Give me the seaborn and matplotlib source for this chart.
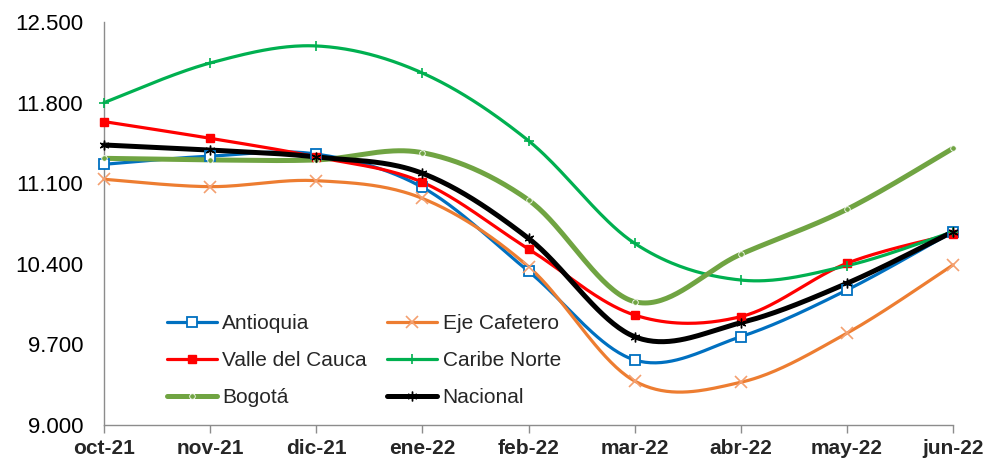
import numpy as np
import pandas as pd
import matplotlib
matplotlib.use("Agg")
import matplotlib.pyplot as plt
import seaborn as sns
from matplotlib.lines import Line2D
from matplotlib.ticker import FuncFormatter

months = ["oct-21", "nov-21", "dic-21", "ene-22", "feb-22", "mar-22", "abr-22", "may-22", "jun-22"]
antioquia = [11264, 11335, 11353, 11064, 10335, 9565, 9767, 10172, 10679]
eje_cafetero = [11134, 11070, 11122, 10968, 10375, 9382, 9371, 9797, 10390]
valle_cauca = [11635, 11490, 11328, 11108, 10529, 9955, 9941, 10404, 10660]
caribe_norte = [11800, 12144, 12292, 12057, 11469, 10578, 10259, 10383, 10679]
bogota = [11316, 11302, 11302, 11365, 10954, 10071, 10483, 10873, 11403]
nacional = [11432, 11388, 11328, 11186, 10621, 9767, 9888, 10230, 10679]

series = [
    ("Antioquia", antioquia, "#0070C0", 2.3, dict(marker="s", ms=6.5, mfc="white", mec="#0070C0", mew=1.3)),
    ("Eje Cafetero", eje_cafetero, "#ED7D31", 2.3, dict(marker="x", ms=8, mec="#F4A070", mew=1.2)),
    ("Valle del Cauca", valle_cauca, "#FF0000", 2.3, dict(marker="s", ms=6, mfc="#FF0000", mec="#FF0000")),
    ("Caribe Norte", caribe_norte, "#00B050", 2.3, dict(marker="+", ms=7, mec="#00B050", mew=1.2)),
    ("Bogotá", bogota, "#70A442", 3.6, dict(marker="o", ms=4, mfc="#70A442", mec="white", mew=0.6)),
    ("Nacional", nacional, "#000000", 3.6, dict(marker=(6, 2, 0), ms=7, mec="#000000", mew=1.0)),
]


def smooth(y, n=40):
    # Excel-style smoothed line (uniform Catmull-Rom / Bezier)
    y = np.asarray(y, dtype=float)
    x = np.arange(len(y), dtype=float)
    P = np.column_stack([x, y])
    P = np.vstack([P[0], P, P[-1]])
    out = []
    for i in range(1, len(P) - 2):
        p0, p1, p2, p3 = P[i - 1], P[i], P[i + 1], P[i + 2]
        c1 = p1 + (p2 - p0) / 6.0
        c2 = p2 - (p3 - p1) / 6.0
        t = np.linspace(0, 1, n, endpoint=(i == len(P) - 3))[:, None]
        b = (1 - t) ** 3 * p1 + 3 * (1 - t) ** 2 * t * c1 + 3 * (1 - t) * t ** 2 * c2 + t ** 3 * p2
        out.append(b)
    out = np.vstack(out)
    return out[:, 0], out[:, 1]


sns.set_theme(style="white")
plt.rcParams["font.family"] = ["Liberation Sans", "DejaVu Sans"]

fig = plt.figure(figsize=(9.92, 4.61), dpi=100)
ax = fig.add_axes([104 / 992, 36 / 461, 849 / 992, 403 / 461])

handles = []
for name, vals, color, lw, mk in series:
    sx, sy = smooth(vals)
    df = pd.DataFrame({"x": sx, "y": sy})
    sns.lineplot(data=df, x="x", y="y", ax=ax, color=color, lw=lw, sort=False,
                 estimator=None, clip_on=False)
    ax.plot(np.arange(len(vals)), vals, ls="none", clip_on=False, zorder=5, **mk)
    handles.append(Line2D([0], [0], color=color, lw=lw, **mk))

ax.set_xlim(0, 8)
ax.set_ylim(9000, 12500)
ax.set_xticks(range(len(months)))
ax.set_xticklabels(months, fontsize=15, fontweight="bold")
ax.set_yticks([9000, 9700, 10400, 11100, 11800, 12500])
ax.yaxis.set_major_formatter(FuncFormatter(lambda v, p: f"{int(v):,}".replace(",", ".")))
ax.tick_params(axis="y", labelsize=16, length=0, pad=15, colors="#000000")
ax.tick_params(axis="x", length=6, width=1, color="#8C8C8C", pad=4, bottom=True)
ax.set_xlabel("")
ax.set_ylabel("")
for s in ["top", "right"]:
    ax.spines[s].set_visible(False)
for s in ["left", "bottom"]:
    ax.spines[s].set_color("#8C8C8C")
    ax.spines[s].set_linewidth(1)

order = [0, 2, 4, 1, 3, 5]
leg = ax.legend([handles[i] for i in order], [series[i][0] for i in order],
                ncol=2, frameon=False, loc="upper left", bbox_to_anchor=(0.064, 0.296),
                fontsize=15, handlelength=2.4, handletextpad=0.25, columnspacing=1.0,
                labelspacing=0.86, borderaxespad=0)

fig.savefig("out.png", dpi=100)
